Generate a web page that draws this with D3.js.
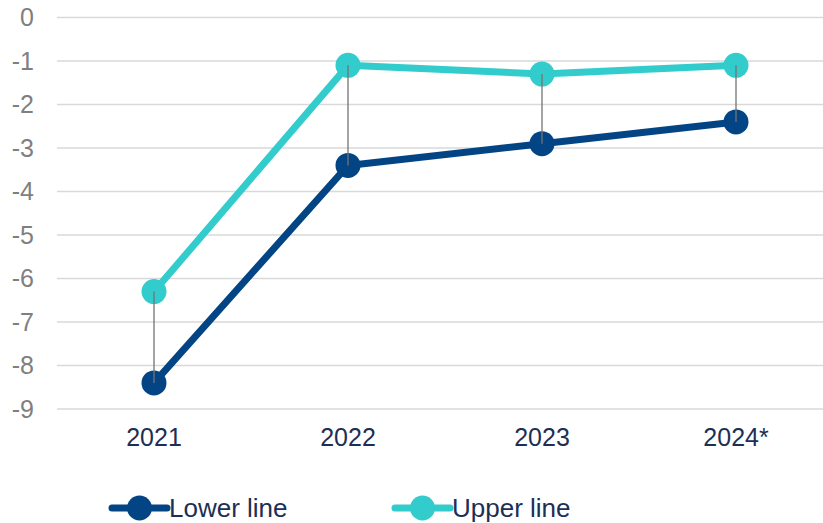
<!DOCTYPE html>
<html>
<head>
<meta charset="utf-8">
<script src="https://d3js.org/d3.v7.min.js"></script>
<style>
  body { margin: 0; background: #fff; }
  text { font-family: "Liberation Sans", Arial, sans-serif; }
</style>
</head>
<body>
<div id="chart"></div>
<script>
// data
const years = ["2021", "2022", "2023", "2024*"];
const lowerLine = [-8.4, -3.4, -2.9, -2.4];
const upperLine = [-6.3, -1.1, -1.3, -1.1];
const yTicks = [0, -1, -2, -3, -4, -5, -6, -7, -8, -9];

const width = 823, height = 523;

const svg = d3.select("#chart")
    .append("svg")
    .attr("width", width)
    .attr("height", height);

// scales
const x = d3.scaleBand()
    .domain(years)
    .range([57, 833]);

const y = d3.scaleLinear()
    .domain([-9, 0])
    .range([409, 17.5]);

// gridlines
svg.append("g")
    .selectAll("line")
    .data(yTicks)
    .join("line")
    .attr("x1", 57)
    .attr("x2", 833)
    .attr("y1", d => y(d))
    .attr("y2", d => y(d))
    .attr("stroke", "#d9d9d9")
    .attr("stroke-width", 1.5);

// y axis labels (plain hyphen, like the original)
const yAxis = svg.append("g")
    .attr("transform", "translate(34,0)")
    .call(d3.axisLeft(y).tickValues(yTicks).tickSize(0).tickPadding(0).tickFormat(d => String(d)));
yAxis.select(".domain").remove();
yAxis.selectAll("text")
    .attr("font-size", 25)
    .attr("fill", "#7f7f7f")
    .attr("font-family", "Liberation Sans, Arial, sans-serif");

// x axis labels
const xAxis = svg.append("g")
    .attr("transform", "translate(0,420)")
    .call(d3.axisBottom(x).tickSize(0).tickPadding(8));
xAxis.select(".domain").remove();
xAxis.selectAll("text")
    .attr("font-size", 25)
    .attr("fill", "#1c2f55")
    .attr("font-family", "Liberation Sans, Arial, sans-serif");

const cx = d => x(d) + x.bandwidth() / 2;

const series = [
    { name: "Lower line", values: lowerLine, color: "#034584" },
    { name: "Upper line", values: upperLine, color: "#33cccc" }
];

const line = d3.line()
    .x((d, i) => cx(years[i]))
    .y(d => y(d));

// lines and markers
series.forEach(s => {
    svg.append("path")
        .datum(s.values)
        .attr("fill", "none")
        .attr("stroke", s.color)
        .attr("stroke-width", 7)
        .attr("stroke-linejoin", "round")
        .attr("d", line);

    svg.append("g")
        .selectAll("circle")
        .data(s.values)
        .join("circle")
        .attr("cx", (d, i) => cx(years[i]))
        .attr("cy", d => y(d))
        .attr("r", 12.5)
        .attr("fill", s.color);
});

// high-low connectors
svg.append("g")
    .selectAll("line")
    .data(years)
    .join("line")
    .attr("x1", d => cx(d))
    .attr("x2", d => cx(d))
    .attr("y1", (d, i) => y(upperLine[i]))
    .attr("y2", (d, i) => y(lowerLine[i]))
    .attr("stroke", "#737373")
    .attr("stroke-width", 1.3);

// legend
const legend = svg.append("g")
    .attr("transform", "translate(0,508)");
const legendX = [112, 395];
series.forEach((s, i) => {
    const g = legend.append("g").attr("transform", `translate(${legendX[i]},0)`);
    g.append("line")
        .attr("x1", 0).attr("x2", 55)
        .attr("stroke", s.color)
        .attr("stroke-width", 7)
        .attr("stroke-linecap", "round");
    g.append("circle")
        .attr("cx", 27.5)
        .attr("r", 12.5)
        .attr("fill", s.color);
    g.append("text")
        .attr("x", 57)
        .attr("y", 9)
        .attr("font-size", 26)
        .attr("fill", "#1c2f55")
        .text(s.name);
});
</script>
</body>
</html>
